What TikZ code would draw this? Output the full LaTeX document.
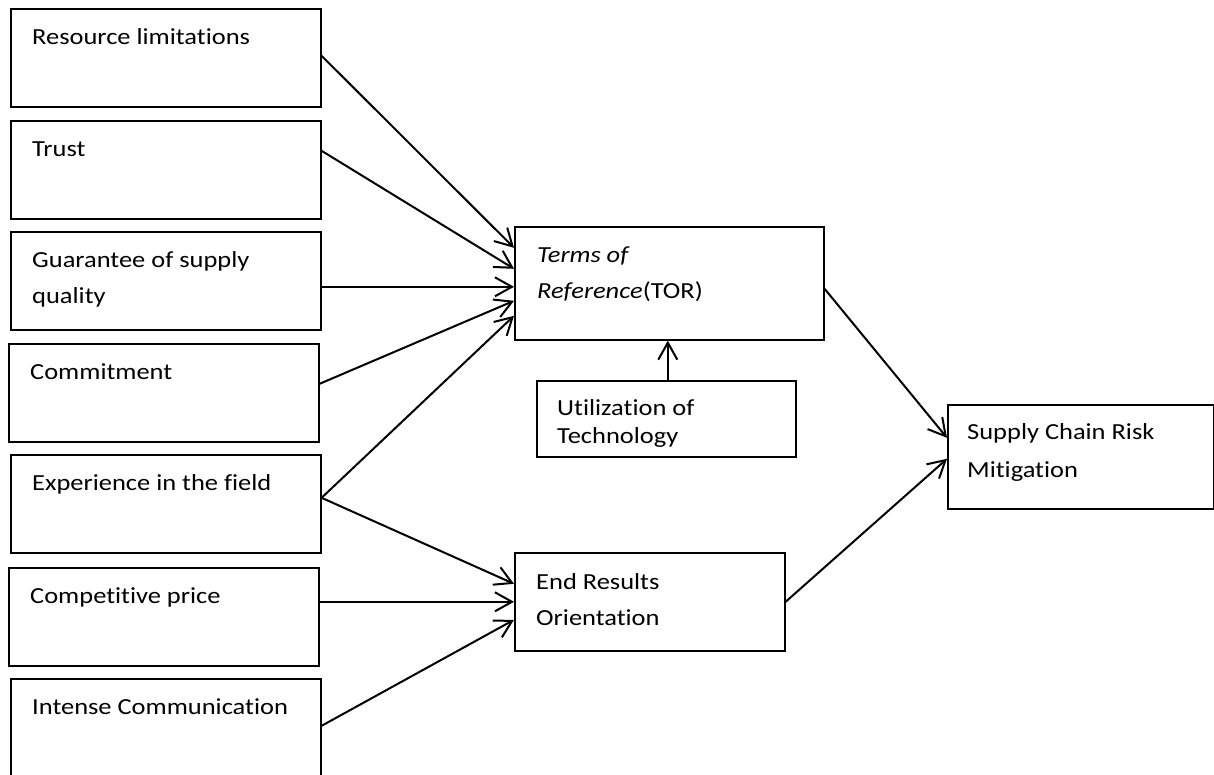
\documentclass[tikz,border=0pt]{standalone}
\usepackage{fontspec}
\setmainfont{Carlito}[FakeStretch=1.15,Ligatures={NoCommon}]
\usetikzlibrary{arrows.meta}

\begin{document}
\begin{tikzpicture}[x=1pt,y=-1pt,
  box/.style={draw,line width=1.6pt,rectangle,inner sep=0pt,anchor=north west},
  txt/.style={anchor=base west,inner sep=0pt,align=left,font=\fontsize{23}{36}\selectfont},
  arr/.style={-{Straight Barb[length=17pt,width=19pt]},line width=2pt}]
\useasboundingbox[fill=white] (0,0) rectangle (1214,774);
% left column
\node[box,minimum width=310pt,minimum height=98pt] (res) at (10,8) {};
\node[box,minimum width=310pt,minimum height=98pt] (trust) at (10,120) {};
\node[box,minimum width=310pt,minimum height=98pt] (guar) at (10,231) {};
\node[box,minimum width=310pt,minimum height=98pt] (commit) at (8,343) {};
\node[box,minimum width=310pt,minimum height=98pt] (exp) at (10,454) {};
\node[box,minimum width=310pt,minimum height=98pt] (price) at (8,567) {};
\node[box,minimum width=310pt,minimum height=110pt] (comm) at (10,678) {};
\node[txt] (res-t) at ([shift={(22,36)}]res.north west) {Resource limitations};
\node[txt] (trust-t) at ([shift={(22,36)}]trust.north west) {Trust};
\node[txt] (guar-t) at ([shift={(22,72)}]guar.north west) {Guarantee of supply\\quality};
\node[txt] (commit-t) at ([shift={(22,36)}]commit.north west) {Commitment};
\node[txt] (exp-t) at ([shift={(22,36)}]exp.north west) {Experience in the field};
\node[txt] (price-t) at ([shift={(22,36)}]price.north west) {Competitive price};
\node[txt] (comm-t) at ([shift={(22,36)}]comm.north west) {Intense Communication};
% middle and right
\node[box,minimum width=309pt,minimum height=113pt] (tor) at (514,226) {};
\node[box,minimum width=259pt,minimum height=76pt] (util) at (536,380) {};
\node[box,minimum width=270pt,minimum height=98pt] (ero) at (514,552) {};
\node[box,minimum width=266pt,minimum height=104pt] (scrm) at (947,404) {};
\node[txt] (tor-t) at ([shift={(23,72)}]tor.north west) {\textit{Terms of}\\\textit{Reference}(TOR)};
\node[txt,font=\fontsize{23}{28}\selectfont] (util-t) at ([shift={(21,63)}]util.north west) {Utilization of\\Technology};
\node[txt] (ero-t) at ([shift={(22,73)}]ero.north west) {End Results\\Orientation};
\node[txt,font=\fontsize{23}{38}\selectfont] (scrm-t) at ([shift={(20,73)}]scrm.north west) {Supply Chain Risk\\Mitigation};
% arrows
\draw[arr] ([shift={(0,-2)}]res.east) -- ([shift={(0,-35.5)}]tor.west);
\draw[arr] ([shift={(0,-19)}]trust.east) -- ([shift={(0,-14.5)}]tor.west);
\draw[arr] ([shift={(0,6)}]guar.east) -- ([shift={(0,3.5)}]tor.west);
\draw[arr] ([shift={(0,-9)}]commit.east) -- ([shift={(0,17.5)}]tor.west);
\draw[arr] ([shift={(0,-6)}]exp.east) -- ([shift={(0,32.5)}]tor.west);
\draw[arr] ([shift={(0,-6)}]exp.east) -- ([shift={(0,-18)}]ero.west);
\draw[arr] ([shift={(0,-15)}]price.east) -- (ero.west);
\draw[arr] ([shift={(0,-8)}]comm.east) -- ([shift={(0,18)}]ero.west);
\draw[arr] ([xshift=1.5pt]util.north) -- ([xshift=1.5pt]util.north |- tor.south);
\draw[arr] ([shift={(0,5.5)}]tor.east) -- ([shift={(0,-19)}]scrm.west);
\draw[arr] (ero.east) -- ([shift={(0,2)}]scrm.west);
\end{tikzpicture}
\end{document}
